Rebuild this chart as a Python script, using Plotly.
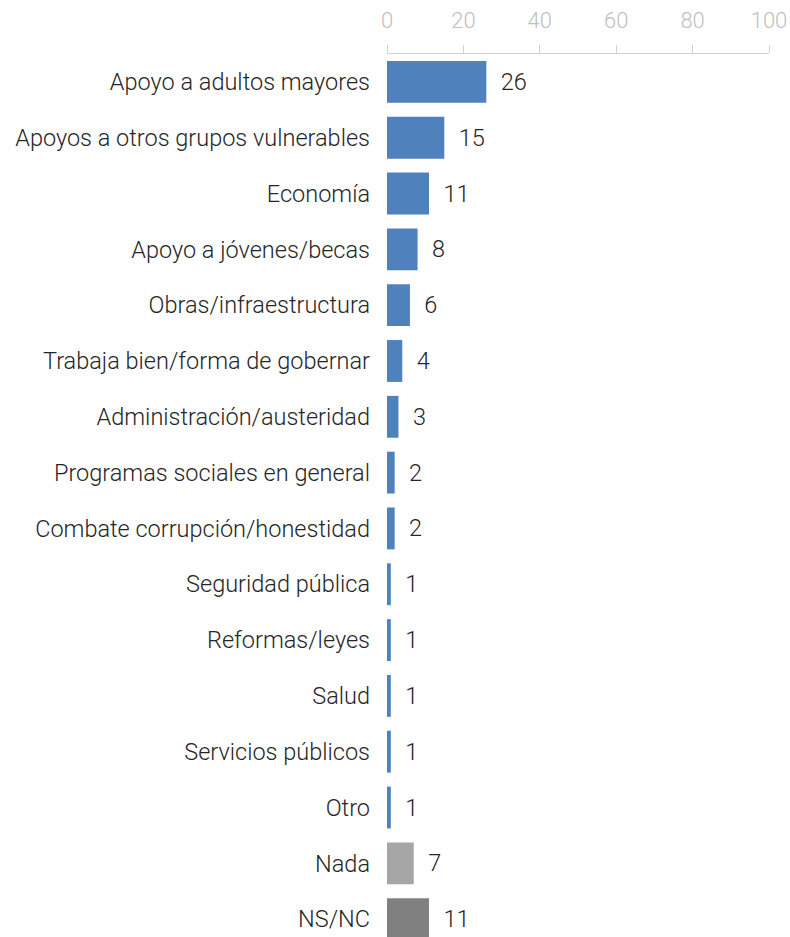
import plotly.graph_objects as go

categories = [
    "Apoyo a adultos mayores",
    "Apoyos a otros grupos vulnerables",
    "Economía",
    "Apoyo a jóvenes/becas",
    "Obras/infraestructura",
    "Trabaja bien/forma de gobernar",
    "Administración/austeridad",
    "Programas sociales en general",
    "Combate corrupción/honestidad",
    "Seguridad pública",
    "Reformas/leyes",
    "Salud",
    "Servicios públicos",
    "Otro",
    "Nada",
    "NS/NC",
]
values = [26, 15, 11, 8, 6, 4, 3, 2, 2, 1, 1, 1, 1, 1, 7, 11]
bar_colors = ["#4f81bd"] * 14 + ["#a6a6a6", "#808080"]
x_ticks = [0, 20, 40, 60, 80, 100]

fig = go.Figure()
fig.add_trace(go.Bar(
    y=categories,
    x=values,
    orientation="h",
    marker=dict(color=bar_colors, line=dict(width=0)),
    width=0.75,
    text=values,
    texttemplate="\u00a0\u00a0%{x}",
    textposition="outside",
    cliponaxis=False,
    textfont=dict(family="Roboto", size=23.5, color="#262626", weight=300),
    hoverinfo="skip",
))

fig.update_layout(
    width=790,
    height=937,
    margin=dict(l=387, r=21, t=54, b=0),
    plot_bgcolor="white",
    paper_bgcolor="white",
    showlegend=False,
    font=dict(family="Roboto"),
    xaxis=dict(
        side="top",
        range=[0, 100],
        tickvals=x_ticks,
        ticks="outside",
        ticklen=8,
        tickcolor="#d0d0d0",
        showline=True,
        linecolor="#d0d0d0",
        linewidth=1,
        showgrid=False,
        zeroline=False,
        tickfont=dict(family="Roboto", size=22, color="#c0c0c0", weight=300),
        ticklabelstandoff=8,
    ),
    yaxis=dict(
        categoryorder="array",
        categoryarray=categories,
        range=[15.32, -0.5],
        showline=False,
        showgrid=False,
        zeroline=False,
        ticks="",
        tickfont=dict(family="Roboto", size=23.5, color="#262626", weight=300),
        ticklabelstandoff=16,
    ),
)

fig.write_html(
    "out.html",
    config={"displayModeBar": False},
    post_script="document.body.style.margin='0';document.body.style.overflow='hidden';",
)
